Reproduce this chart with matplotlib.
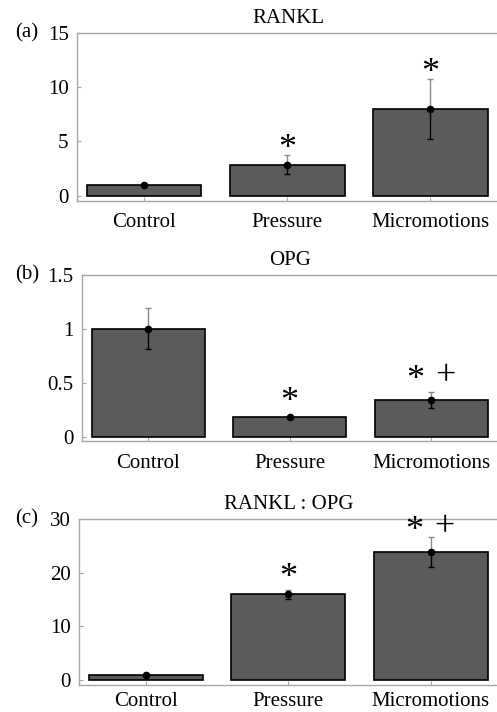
import matplotlib
matplotlib.use("Agg")
import matplotlib.pyplot as plt
import numpy as np

plt.rcParams['font.family'] = ['Liberation Serif', 'DejaVu Serif']

categories = ["Control", "Pressure", "Micromotions"]

titles = ["RANKL", "OPG", "RANKL : OPG"]
panel_tags = ["(a)", "(b)", "(c)"]

rankl_mean = [1.0, 2.85, 8.0]
rankl_lo = [0.95, 1.95, 5.2]
rankl_hi = [1.05, 3.7, 10.8]

opg_mean = [1.0, 0.18, 0.34]
opg_lo = [0.81, 0.17, 0.27]
opg_hi = [1.19, 0.19, 0.41]

ratio_mean = [1.0, 16.0, 23.9]
ratio_lo = [0.8, 15.2, 21.0]
ratio_hi = [1.2, 16.8, 26.6]

rankl_marks = ["", "*", "*"]
opg_marks = ["", "*", "* +"]
ratio_marks = ["", "*", "* +"]

rankl_mark_y = [0, 5.0, 12.0]
opg_mark_y = [0, 0.40, 0.60]
ratio_mark_y = [0, 20.5, 29.2]

rankl_ticks = [0, 5, 10, 15]
opg_ticks = [0, 0.5, 1, 1.5]
opg_ticklabels = ["0", "0.5", "1", "1.5"]
ratio_ticks = [0, 10, 20, 30]

W, H = 497, 712
fig = plt.figure(figsize=(W / 100, H / 100), dpi=100)

def px_axes(left, top, right, bottom):
    return fig.add_axes([left / W, 1 - bottom / H, (right - left) / W, (bottom - top) / H])

panels = [
    dict(box=(77, 33, 499, 201), mean=rankl_mean, lo=rankl_lo, hi=rankl_hi,
         marks=rankl_marks, mark_y=rankl_mark_y, ylim=(-0.5, 15), ticks=rankl_ticks,
         ticklabels=[str(t) for t in rankl_ticks], xpad=9),
    dict(box=(82, 275, 499, 441), mean=opg_mean, lo=opg_lo, hi=opg_hi,
         marks=opg_marks, mark_y=opg_mark_y, ylim=(-0.04, 1.5), ticks=opg_ticks,
         ticklabels=opg_ticklabels, xpad=9),
    dict(box=(79, 519, 499, 685), mean=ratio_mean, lo=ratio_lo, hi=ratio_hi,
         marks=ratio_marks, mark_y=ratio_mark_y, ylim=(-0.9, 30), ticks=ratio_ticks,
         ticklabels=[str(t) for t in ratio_ticks], xpad=5),
]

bar_color = "#5b5b5b"
spine_color = "#a8a8a8"
fs = 15
star_fs = 26
PX = 0.72  # points per pixel at dpi 100

for p, title, tag in zip(panels, titles, panel_tags):
    ax = px_axes(*p["box"])
    x = np.arange(len(categories))
    mean = np.array(p["mean"])
    lo = np.array(p["lo"])
    hi = np.array(p["hi"])
    ax.bar(x, mean, width=0.8, color=bar_color, edgecolor="black", linewidth=1.2, zorder=2)
    ax.errorbar(x, mean, yerr=[mean - lo, np.zeros_like(mean)], fmt="none",
                ecolor="black", elinewidth=1.0, capsize=2.5, capthick=1.0, zorder=3)
    ax.errorbar(x, mean, yerr=[np.zeros_like(mean), hi - mean], fmt="none",
                ecolor="#8a8a8a", elinewidth=1.0, capsize=2.5, capthick=1.0, zorder=3)
    ax.plot(x, mean, "o", color="black", markersize=4.5, zorder=4)
    for xi, m, my in zip(x, p["marks"], p["mark_y"]):
        toks = m.split()
        if not toks:
            continue
        if len(toks) == 1:
            offs = [0]
        else:
            offs = [-16, 14]
        for tok, dx in zip(toks, offs):
            if tok == "*":
                dy = -0.47 * star_fs
            else:
                dy = -0.36 * star_fs
            ax.annotate(tok, (xi, my), xytext=(dx * PX, dy), textcoords="offset points",
                        ha="center", va="baseline", fontsize=star_fs, zorder=5,
                        annotation_clip=False)
    ax.set_xlim(-0.47, 2.48)
    ax.set_ylim(*p["ylim"])
    ax.set_xticks(x)
    ax.set_xticklabels(categories, fontsize=fs)
    ax.set_yticks(p["ticks"])
    ax.set_yticklabels(p["ticklabels"], fontsize=fs)
    ax.tick_params(direction="in", length=3, color=spine_color, width=0.8,
                   top=False, right=False)
    ax.tick_params(axis="x", pad=p["xpad"])
    ax.tick_params(axis="y", pad=6)
    for s in ax.spines.values():
        s.set_color(spine_color)
        s.set_linewidth(1.0)
    ax.set_title(title, fontsize=fs, pad=7)
    tag_x = (15 - p["box"][0]) / (p["box"][2] - p["box"][0])
    ax.text(tag_x, p["ticks"][-1], tag, transform=ax.get_yaxis_transform(),
            ha="left", va="center", fontsize=fs)

fig.savefig("out.png", dpi=100)
